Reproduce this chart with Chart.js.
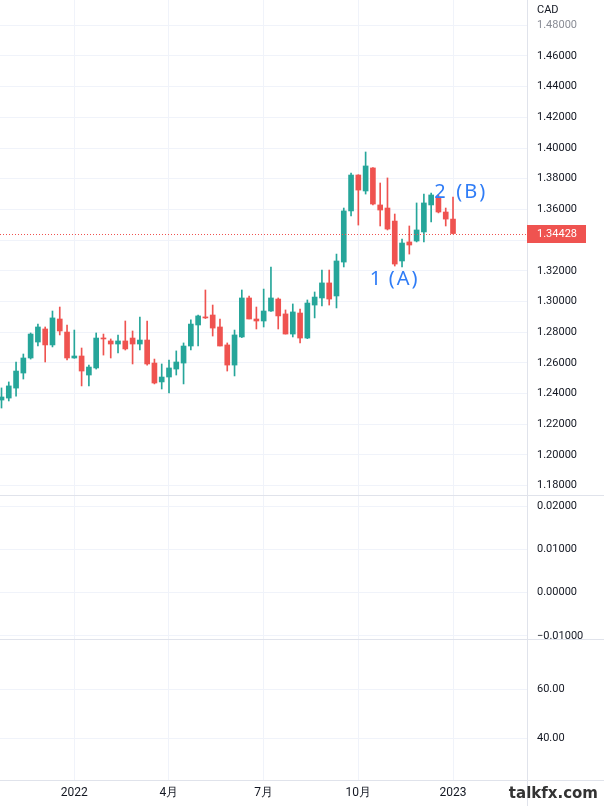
<!DOCTYPE html>
<html>
<head>
<meta charset="utf-8">
<script src="https://cdn.jsdelivr.net/npm/chart.js@4.4.0/dist/chart.umd.min.js"></script>
<style>
  html, body { margin: 0; padding: 0; background: #fff; }
  #wrap { width: 604px; height: 806px; }
</style>
</head>
<body>
<div id="wrap"><canvas id="chart" width="604" height="806"></canvas></div>
<script>
// weekly USD/CAD candles
const opens = [1.2358, 1.2371, 1.2436, 1.2534, 1.2632, 1.2736, 1.2821, 1.2717, 1.2886, 1.2801,
  1.2632, 1.2645, 1.2521, 1.2567, 1.2762, 1.2743, 1.2723, 1.2743, 1.2762, 1.2723,
  1.2749, 1.2599, 1.2476, 1.2508, 1.2560, 1.2599, 1.2710, 1.2847, 1.2899, 1.2912,
  1.2834, 1.2717, 1.2586, 1.2769, 1.3023, 1.2886, 1.2873, 1.2938, 1.3016, 1.2919,
  1.2788, 1.2925, 1.2762, 1.2977, 1.3023, 1.3121, 1.3036, 1.3257, 1.3590, 1.3824,
  1.3720, 1.3870, 1.3629, 1.3609, 1.3524, 1.3264, 1.3388, 1.3394, 1.3453, 1.3629,
  1.3674, 1.3583, 1.3537];
const highs = [1.2437, 1.2476, 1.2606, 1.2658, 1.2795, 1.2853, 1.2834, 1.2938, 1.2964, 1.2847,
  1.2814, 1.2697, 1.2586, 1.2795, 1.2788, 1.2756, 1.2782, 1.2873, 1.2808, 1.2899,
  1.2873, 1.2625, 1.2593, 1.2619, 1.2678, 1.2730, 1.2880, 1.2912, 1.3075, 1.2977,
  1.2886, 1.2730, 1.2814, 1.3075, 1.3036, 1.2964, 1.3081, 1.3225, 1.3023, 1.2945,
  1.2984, 1.2951, 1.3010, 1.3062, 1.3205, 1.3205, 1.3309, 1.3609, 1.3837, 1.3826,
  1.3974, 1.3872, 1.3772, 1.3805, 1.3570, 1.3407, 1.3492, 1.3642, 1.3700, 1.3707,
  1.3694, 1.3609, 1.3681];
const lows = [1.2306, 1.2352, 1.2384, 1.2495, 1.2625, 1.2710, 1.2606, 1.2704, 1.2782, 1.2619,
  1.2630, 1.2450, 1.2450, 1.2560, 1.2651, 1.2632, 1.2665, 1.2684, 1.2593, 1.2684,
  1.2586, 1.2463, 1.2430, 1.2404, 1.2521, 1.2463, 1.2684, 1.2710, 1.2889, 1.2775,
  1.2710, 1.2547, 1.2515, 1.2765, 1.2886, 1.2821, 1.2834, 1.2935, 1.2821, 1.2788,
  1.2769, 1.2730, 1.2758, 1.2893, 1.2971, 1.2977, 1.2958, 1.3225, 1.3557, 1.3498,
  1.3700, 1.3629, 1.3492, 1.3466, 1.3231, 1.3225, 1.3309, 1.3388, 1.3388, 1.3518,
  1.3577, 1.3492, 1.3440];
const closes = [1.2378, 1.2450, 1.2547, 1.2632, 1.2788, 1.2834, 1.2717, 1.2893, 1.2808, 1.2632,
  1.2645, 1.2547, 1.2573, 1.2762, 1.2756, 1.2723, 1.2743, 1.2691, 1.2723, 1.2749,
  1.2593, 1.2469, 1.2508, 1.2567, 1.2606, 1.2710, 1.2853, 1.2906, 1.2893, 1.2827,
  1.2710, 1.2586, 1.2782, 1.3023, 1.2886, 1.2873, 1.2938, 1.3023, 1.2906, 1.2788,
  1.2932, 1.2762, 1.2990, 1.3029, 1.3121, 1.3016, 1.3264, 1.3590, 1.3824, 1.3726,
  1.3883, 1.3635, 1.3596, 1.3472, 1.3244, 1.3381, 1.3368, 1.3466, 1.3642, 1.3694,
  1.3583, 1.3537, 1.34428];

const firstWeek = '2021-10-25';
const tickWeeks = ['2022-01-03', '2022-04-04', '2022-07-04', '2022-10-03', '2023-01-02'];
const tickLabels = ['2022', '4月', '7月', '10月', '2023'];
const priceTicks = [1.18, 1.20, 1.22, 1.24, 1.26, 1.28, 1.30, 1.32, 1.34, 1.36, 1.38, 1.40, 1.42, 1.44, 1.46, 1.48];
const oscTicks = [0.02, 0.01, 0, -0.01];
const rsiTicks = [60, 40];

const UP = '#26a69a';
const DOWN = '#ef5350';
const GRID = '#f0f3fa';
const LINE = '#e0e3eb';
const TEXT = '#131722';
const FONT = 'Roboto, "Noto Sans", sans-serif';

const weeks = opens.map((_, i) => {
  const d = new Date(firstWeek + 'T00:00:00Z');
  d.setUTCDate(d.getUTCDate() + i * 7);
  return d.toISOString().slice(0, 10);
});
const tickIdx = tickWeeks.map(w => weeks.indexOf(w));
const colors = opens.map((o, i) => closes[i] >= o ? UP : DOWN);
const lastClose = closes[closes.length - 1];

const noPad = s => { s.paddingTop = 0; s.paddingBottom = 0; s.paddingLeft = 0; s.paddingRight = 0; };

function paneAxis(ticks, min, max, weight, fmt, extra) {
  return Object.assign({
    type: 'linear',
    position: 'right',
    stack: 'panes',
    stackWeight: weight,
    min: min,
    max: max,
    grid: { color: GRID, drawTicks: false },
    border: { color: LINE },
    ticks: {
      padding: 10,
      color: TEXT,
      font: { family: FONT, size: 11 },
      callback: fmt
    },
    afterBuildTicks: s => { s.ticks = ticks.map(v => ({ value: v })); },
    afterFit: s => { s.width = 77; noPad(s); }
  }, extra || {});
}

const overlay = {
  id: 'overlay',
  afterDatasetsDraw(chart) {
    const { ctx, chartArea } = chart;
    const x = chart.scales.x, y = chart.scales.y;
    // current price dotted line
    const py = Math.round(y.getPixelForValue(lastClose)) + 0.5;
    ctx.save();
    ctx.strokeStyle = DOWN;
    ctx.lineWidth = 1;
    ctx.setLineDash([1, 2]);
    ctx.beginPath();
    ctx.moveTo(chartArea.left, py);
    ctx.lineTo(chartArea.right, py);
    ctx.stroke();
    ctx.setLineDash([]);

    // wave labels
    ctx.fillStyle = '#2f7cf6';
    ctx.font = '20px "Noto Sans", sans-serif';
    ctx.letterSpacing = '2px';
    ctx.textBaseline = 'middle';
    ctx.textAlign = 'left';
    const a = x.getPixelForValue(54), aY = y.getPixelForValue(lows[54]) + 13;
    ctx.fillText('1', a - 25, aY);
    ctx.fillText('(A)', a - 6, aY);
    const b = x.getPixelForValue(59), bY = y.getPixelForValue(highs[59]) - 1;
    ctx.fillText('2', b + 3, bY);
    ctx.fillText('(B)', b + 25, bY);
    ctx.restore();
  },
  afterDraw(chart) {
    const { ctx, chartArea, width, height } = chart;
    const y = chart.scales.y;
    ctx.save();
    ctx.strokeStyle = LINE;
    ctx.lineWidth = 1;
    ctx.beginPath();
    [chart.scales.y2.top, chart.scales.y3.top, chartArea.bottom].forEach(v => {
      const yy = Math.round(v) + 0.5;
      ctx.moveTo(0, yy);
      ctx.lineTo(width, yy);
    });
    const xx = Math.round(chartArea.right) + 0.5;
    ctx.moveTo(xx, 0);
    ctx.lineTo(xx, height);
    ctx.stroke();

    // price label box
    const py = y.getPixelForValue(lastClose);
    ctx.fillStyle = DOWN;
    ctx.fillRect(chartArea.right, Math.round(py) - 9, 59, 18);
    ctx.fillStyle = '#ffffff';
    ctx.font = '11px ' + FONT;
    ctx.textBaseline = 'middle';
    ctx.textAlign = 'left';
    ctx.fillText(lastClose.toFixed(5), chartArea.right + 10, py + 0.5);

    // currency
    ctx.fillStyle = TEXT;
    ctx.fillText('CAD', chartArea.right + 10, 10);

    // watermark
    ctx.fillStyle = '#333333';
    ctx.font = 'bold 15px "DejaVu Sans", sans-serif';
    ctx.textAlign = 'right';
    ctx.fillText('talkfx.com', 598, 794);
    ctx.restore();
  }
};

new Chart(document.getElementById('chart'), {
  type: 'bar',
  data: {
    datasets: [
      {
        label: 'wick',
        data: opens.map((_, i) => ({ x: i, y: [lows[i], highs[i]] })),
        backgroundColor: colors,
        barThickness: 1,
        grouped: false,
        yAxisID: 'y'
      },
      {
        label: 'body',
        data: opens.map((o, i) => ({ x: i, y: [o, closes[i]] })),
        backgroundColor: colors,
        barThickness: 5,
        minBarLength: 1,
        grouped: false,
        yAxisID: 'y'
      }
    ]
  },
  options: {
    responsive: false,
    animation: false,
    layout: { padding: 0, autoPadding: false },
    plugins: { legend: { display: false }, tooltip: { enabled: false } },
    scales: {
      x: {
        type: 'linear',
        min: -0.206,
        max: 72.16,
        offset: false,
        grid: { color: GRID, offset: false, drawTicks: false },
        border: { display: false },
        ticks: {
          padding: 6,
          autoSkip: false,
          maxRotation: 0,
          color: TEXT,
          font: { family: FONT, size: 12 },
          callback: v => tickLabels[tickIdx.indexOf(v)]
        },
        afterBuildTicks: s => { s.ticks = tickIdx.map(v => ({ value: v })); },
        afterFit: s => { s.height = 26; noPad(s); }
      },
      y: paneAxis(priceTicks, 1.17394, 1.49642, 495, v => v.toFixed(5), {
        ticks: {
          padding: 10,
          font: { family: FONT, size: 11 },
          color: c => c.tick && c.tick.value > 1.47 ? '#8a8d96' : TEXT,
          callback: v => v.toFixed(5)
        }
      }),
      y2: paneAxis(oscTicks, -0.0107, 0.02254, 144, v => (v < 0 ? '\u2212' : '') + Math.abs(v).toFixed(5)),
      y3: paneAxis(rsiTicks, 22.9, 80.4, 141, v => v.toFixed(2))
    }
  },
  plugins: [overlay]
});
</script>
</body>
</html>
